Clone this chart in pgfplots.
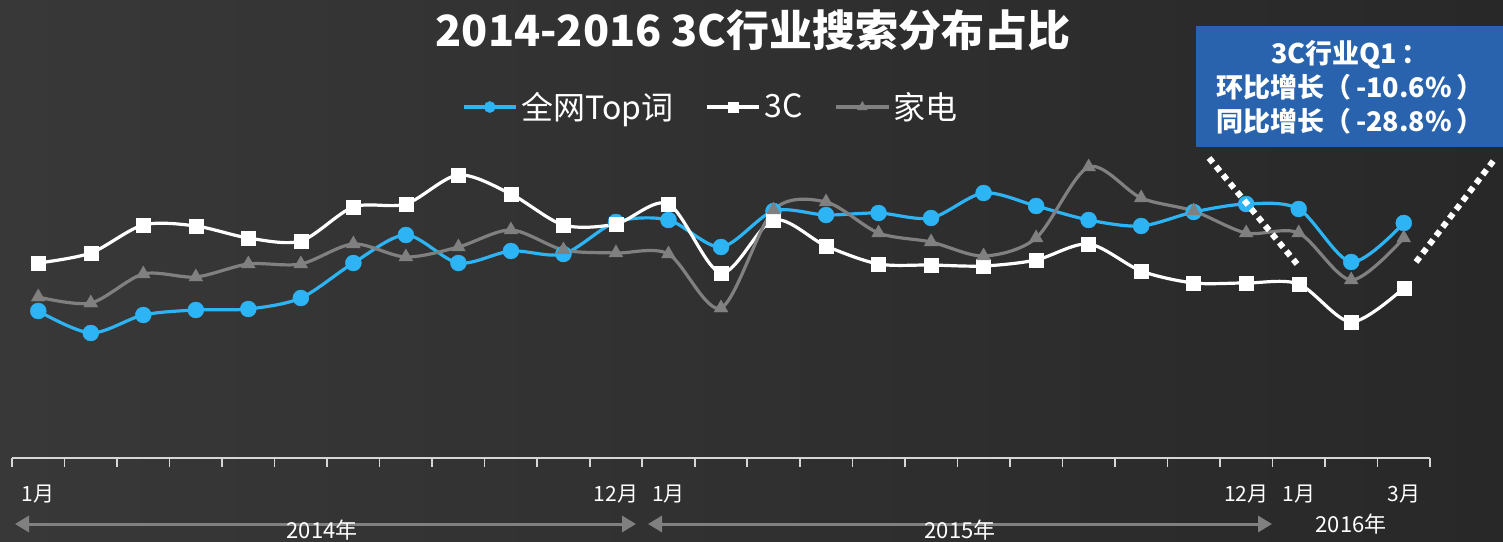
\documentclass[border=0pt]{standalone}
\usepackage{pgfplots}
\pgfplotsset{compat=1.18}
\usepackage{fontspec}
\setmainfont{Noto Sans CJK SC}
\usetikzlibrary{arrows.meta}
\definecolor{bgL}{RGB}{56,56,56}
\definecolor{bgR}{RGB}{40,40,40}
\definecolor{cblue}{RGB}{45,180,245}
\definecolor{cgray}{RGB}{128,128,128}
\definecolor{boxblue}{RGB}{42,99,173}
\definecolor{axgray}{RGB}{215,215,215}
\begin{document}
\begin{tikzpicture}
\useasboundingbox (0,0) rectangle (751.5pt,270.5pt);
\shade[left color=bgL, right color=bgR] (0,0) rectangle (751.5pt,270.5pt);
\begin{axis}[
 at={(6pt,41.5pt)}, anchor=south west, scale only axis,
 width=709pt, height=164pt,
 xmin=0.5, xmax=27.5, ymin=0, ymax=328,
 axis x line=bottom, axis y line=none,
 axis line style={axgray, line width=0.8pt, -},
 xtick={0.5,1.5,...,27.5}, xticklabel={\relax},
 major tick length=4.5pt, tick align=outside,
 tick style={axgray, line width=0.8pt},
 ytick=\empty,
 clip=false,
 legend columns=3,
 legend style={at={(0.4937,1.07)}, anchor=center, draw=none, fill=none,
   text=white, font=\fontsize{16}{18}\selectfont,
   /tikz/every even column/.append style={column sep=14pt}},
 legend image code/.code={\draw[mark repeat=2,mark phase=2,#1,every mark/.append style={scale=0.7}] plot coordinates {(0pt,0pt) (13pt,0pt) (26pt,0pt)};},
]
\addplot[cblue, line width=1.6pt, smooth, mark=*, mark size=4pt,
  mark options={fill=cblue, draw=cblue, line width=0.2pt}] coordinates {
(1,147) (2,125) (3,143) (4,148) (5,149) (6,160) (7,195) (8,223) (9,195)
(10,207) (11,204) (12,236) (13,238) (14,211) (15,247) (16,243) (17,245) (18,240)
(19,265) (20,252) (21,238) (22,232) (23,246) (24,254) (25,249) (26,196) (27,235)};
\addlegendentry{全网Top词}
\addplot[white, line width=1.6pt, smooth, mark=square*, mark size=3.5pt,
  mark options={fill=white, draw=white, line width=0.2pt}] coordinates {
(1,195) (2,205) (3,233) (4,232) (5,220) (6,217) (7,251) (8,254) (9,283)
(10,264) (11,233) (12,234) (13,254) (14,185) (15,238) (16,212) (17,194) (18,193)
(19,192) (20,198) (21,214) (22,187) (23,175) (24,175) (25,174) (26,136) (27,170)};
\addlegendentry{3C}
\addplot[cgray, line width=1.6pt, smooth, mark=triangle*, mark size=4pt,
  mark options={fill=cgray, draw=cgray, line width=0.2pt}] coordinates {
(1,161) (2,155) (3,184) (4,181) (5,194) (6,194) (7,214) (8,201) (9,211)
(10,228) (11,208) (12,205) (13,204) (14,150) (15,248) (16,256) (17,225) (18,216)
(19,202) (20,220) (21,291) (22,260) (23,247) (24,225) (25,225) (26,178) (27,220)};
\addlegendentry{家电}
\node[text=white, font=\fontsize{10.5}{11}\selectfont, yshift=-18pt] at (axis cs:1,0) {1月};
\node[text=white, font=\fontsize{10.5}{11}\selectfont, yshift=-18pt] at (axis cs:12,0) {12月};
\node[text=white, font=\fontsize{10.5}{11}\selectfont, yshift=-18pt] at (axis cs:13,0) {1月};
\node[text=white, font=\fontsize{10.5}{11}\selectfont, yshift=-18pt] at (axis cs:24,0) {12月};
\node[text=white, font=\fontsize{10.5}{11}\selectfont, yshift=-18pt] at (axis cs:25,0) {1月};
\node[text=white, font=\fontsize{10.5}{11}\selectfont, yshift=-18pt] at (axis cs:27,0) {3月};
\end{axis}
\draw[cgray, line width=1.5pt, {Triangle[length=7pt,width=8pt]}-{Triangle[length=7pt,width=8pt]}] (7.5pt,8.5pt) -- (318pt,8.5pt);
\draw[cgray, line width=1.5pt, {Triangle[length=7pt,width=8pt]}-{Triangle[length=7pt,width=8pt]}] (324pt,8.5pt) -- (636pt,8.5pt);
\node[text=white, font=\fontsize{11}{12}\selectfont] at (161pt,5.5pt) {2014年};
\node[text=white, font=\fontsize{11}{12}\selectfont] at (480pt,5.5pt) {2015年};
\node[text=white, font=\fontsize{11}{12}\selectfont] at (675.5pt,8.5pt) {2016年};
\node[text=white, font=\bfseries\fontsize{21.5}{24}\selectfont] at (376.5pt,255.5pt) {2014-2016 3C行业搜索分布占比};
\fill[boxblue] (598pt,197pt) rectangle (751.5pt,257.5pt);
\node[text=white, font=\bfseries\fontsize{13.5}{17}\selectfont, align=center] at (675pt,227pt) {3C行业Q1\,：\\环比增长（\,-10.6\%\,）\\同比增长（\,-28.8\%\,）};
\draw[white, line width=3pt, dash pattern=on 3pt off 2.5pt] (604.5pt,191.5pt) -- (648.5pt,138.5pt);
\draw[white, line width=3pt, dash pattern=on 3pt off 2.5pt] (708pt,139.5pt) -- (747pt,190.5pt);
\end{tikzpicture}
\end{document}
